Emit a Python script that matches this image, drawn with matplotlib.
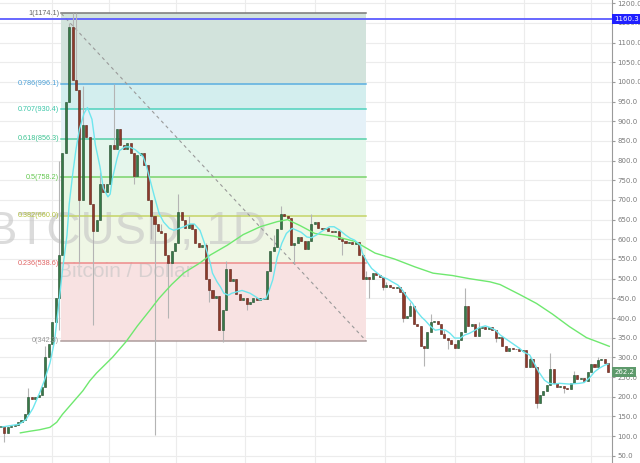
import numpy as np
import pandas as pd
import matplotlib
matplotlib.use("Agg")
from matplotlib import pyplot as plt
import matplotlib.dates as mdates

start = "2013-09-28"
first_open = 124.0
closes = [125, 108, 122, 126, 128, 135, 140, 155, 200, 195,
          200, 205, 225, 300, 335, 390, 450, 560, 820, 950,
          1140, 1005, 980, 700, 890, 860, 690, 620, 650, 740,
          720, 740, 840, 830, 880, 840, 830, 845, 820, 760,
          815, 820, 790, 700, 660, 640, 620, 615, 560, 540,
          570, 590, 670, 650, 630, 640, 625, 590, 580, 585,
          500, 470, 450, 455, 370, 420, 525, 495, 500, 460,
          445, 450, 435, 440, 450, 445, 452, 448, 520, 570,
          580, 625, 665, 660, 655, 585, 590, 605, 595, 575,
          595, 640, 645, 630, 625, 628, 622, 618, 620, 600,
          595, 590, 594, 588, 592, 560, 500, 505, 498, 515,
          510, 505, 480, 483, 478, 475, 478, 465, 400, 405,
          430, 385, 380, 330, 325, 365, 390, 392, 385, 360,
          350, 345, 335, 325, 345, 365, 430, 380, 385, 355,
          375, 378, 373, 378, 370, 350, 352, 330, 315, 325,
          322, 320, 315, 318, 275, 295, 275, 185, 205, 215,
          230, 270, 235, 225, 228, 222, 220, 235, 255, 245,
          248, 240, 262, 282, 275, 292, 295, 285, 262.2]
highs = {8: 222, 13: 330, 17: 800, 20: 1150, 21: 1174.1, 22: 1174.1, 24: 990, 29: 770,
         33: 995, 38: 840, 47: 640, 52: 715, 55: 660, 60: 590, 66: 545, 69: 500,
         80: 610, 82: 685, 91: 665, 99: 615, 107: 520, 113: 492, 120: 440, 126: 410,
         130: 370, 136: 475, 140: 390, 147: 355, 155: 300, 161: 312, 168: 265, 175: 300}
lows = {1: 86, 13: 250, 17: 370, 23: 540, 27: 382, 32: 760, 39: 740, 44: 600, 45: 102,
        49: 400, 61: 440, 65: 340, 72: 420, 86: 540, 100: 560, 108: 450, 112: 470,
        118: 390, 124: 278, 131: 320, 145: 340, 157: 170, 165: 210}

# fast moving average (cyan)
fast_dates = ["2013-09-29", "2013-10-14", "2013-10-20", "2013-10-26", "2013-11-01", "2013-11-05",
              "2013-11-10", "2013-11-14", "2013-11-18", "2013-11-21", "2013-11-25", "2013-11-27",
              "2013-11-30", "2013-12-03", "2013-12-06", "2013-12-10", "2013-12-13", "2013-12-17",
              "2013-12-20", "2013-12-24", "2013-12-27", "2013-12-31", "2014-01-02", "2014-01-04",
              "2014-01-08", "2014-01-10", "2014-01-15", "2014-01-19", "2014-01-24", "2014-01-28",
              "2014-01-31", "2014-02-03", "2014-02-06", "2014-02-10", "2014-02-14", "2014-02-18",
              "2014-02-23", "2014-02-27", "2014-03-04", "2014-03-08", "2014-03-13", "2014-03-17",
              "2014-03-22", "2014-03-26", "2014-03-31", "2014-04-02", "2014-04-06", "2014-04-09",
              "2014-04-12", "2014-04-16", "2014-04-19", "2014-04-24", "2014-04-28", "2014-05-05",
              "2014-05-10", "2014-05-14", "2014-05-19", "2014-05-21", "2014-05-25", "2014-05-29",
              "2014-06-02", "2014-06-06", "2014-06-11", "2014-06-15", "2014-06-19", "2014-06-24",
              "2014-06-28", "2014-07-03", "2014-07-07", "2014-07-14", "2014-07-18", "2014-07-23",
              "2014-07-28", "2014-08-01", "2014-08-05", "2014-08-10", "2014-08-12", "2014-08-16",
              "2014-08-20", "2014-08-25", "2014-08-29", "2014-09-03", "2014-09-07", "2014-09-12",
              "2014-09-16", "2014-09-20", "2014-09-25", "2014-09-29", "2014-10-03", "2014-10-06",
              "2014-10-11", "2014-10-15", "2014-10-19", "2014-10-24", "2014-10-28", "2014-11-01",
              "2014-11-06", "2014-11-10", "2014-11-14", "2014-11-19", "2014-11-23", "2014-11-28",
              "2014-12-02", "2014-12-07", "2014-12-11", "2014-12-15", "2014-12-20", "2014-12-24",
              "2014-12-28", "2015-01-01", "2015-01-06", "2015-01-10", "2015-01-14", "2015-01-19",
              "2015-01-23", "2015-01-28", "2015-02-01", "2015-02-10", "2015-02-19", "2015-02-23",
              "2015-02-28", "2015-03-04", "2015-03-08", "2015-03-13", "2015-03-16"]
fast_ma = [123, 130, 142, 170, 210, 240,
           285, 340, 440, 520, 610, 690,
           765, 830, 880, 920, 935, 905,
           840, 785, 730, 708, 715, 755,
           805, 825, 835, 835, 828, 818,
           810, 785, 752, 708, 666, 644,
           628, 623, 628, 632, 639, 639,
           623, 590, 540, 514, 492, 479,
           463, 458, 463, 467, 470, 463,
           454, 446, 450, 463, 497, 555,
           590, 615, 628, 623, 618, 606,
           604, 612, 620, 632, 632, 623,
           611, 603, 598, 585, 564, 543,
           526, 514, 505, 499, 492, 484,
           471, 454, 437, 416, 402, 394,
           378, 369, 371, 369, 361, 349,
           349, 357, 361, 369, 376, 380,
           376, 369, 357, 349, 339, 331,
           323, 313, 306, 285, 263, 242,
           234, 232, 234, 232, 234, 236,
           249, 263, 272, 280, 283]

# slow moving average (green)
slow_dates = ["2013-10-15", "2013-10-23", "2013-11-01", "2013-11-10", "2013-11-16", "2013-11-21",
              "2013-11-27", "2013-12-03", "2013-12-09", "2013-12-15", "2013-12-21", "2013-12-28",
              "2014-01-04", "2014-01-10", "2014-01-16", "2014-01-26", "2014-02-06", "2014-02-14",
              "2014-02-25", "2014-03-08", "2014-03-22", "2014-03-31", "2014-04-15", "2014-04-29",
              "2014-05-14", "2014-05-29", "2014-06-07", "2014-06-18", "2014-07-01", "2014-07-18",
              "2014-08-05", "2014-08-23", "2014-09-09", "2014-09-27", "2014-10-13", "2014-10-30",
              "2014-11-14", "2014-12-02", "2014-12-11", "2014-12-28", "2015-01-12", "2015-01-26",
              "2015-02-10", "2015-02-25", "2015-03-08", "2015-03-17"]
slow_ma = [108, 112, 116, 122, 135, 155,
           175, 195, 215, 240, 260, 280,
           300, 320, 340, 380, 420, 450,
           485, 515, 540, 560, 585, 612,
           632, 645, 650, 635, 615, 608,
           595, 565, 550, 530, 514, 508,
           500, 492, 485, 460, 437, 410,
           378, 350, 338, 328]

# fibonacci retracement
fib_start, fib_end = "2013-11-20", "2014-08-15"
fib_levels = [1174.1, 996.1, 930.4, 856.3, 758.2, 660.0, 538.6, 342.3]
fib_labels = ["1(1174.1)", "0.786(996.1)", "0.707(930.4)", "0.618(856.3)",
              "0.5(758.2)", "0.382(660.0)", "0.236(538.6)", "0(342.3)"]
fib_line_colors = ["#787878", "#5aaee0", "#4fd2bd", "#55d0a8", "#79d36c", "#c4d466", "#ee8a8a", "#ae9c9c"]
fib_text_colors = ["#666666", "#4a9fd6", "#3cc6a8", "#3ec493", "#64c850", "#b3c23e", "#e06464", "#999999"]
fib_fills = ["#d2e3dc", "#d3eeee", "#e5f1f8", "#e5f6ec", "#e8f6e3", "#eff7e5", "#f8e2e2"]

last_price = 262.2
hline_price = 1160.3
grid_dates = ["2013-11-12", "2014-01-01", "2014-03-01", "2014-05-01", "2014-07-01",
              "2014-09-01", "2014-11-01", "2015-01-01", "2015-03-01"]

# ---------------------------------------------------------------
dates = pd.date_range(start, periods=len(closes), freq="3D")
x = mdates.date2num(dates.to_pydatetime())
c = np.array(closes, dtype=float)
o = np.concatenate([[first_open], c[:-1]])
hi = np.maximum(o, c)
lo = np.minimum(o, c)
for k, v in highs.items():
    hi[k] = v
for k, v in lows.items():
    lo[k] = v

fig = plt.figure(figsize=(6.4, 4.63), dpi=100)
ax = fig.add_axes([0, 0, 612 / 640, 1])
t0 = mdates.date2num(pd.Timestamp(start))
ax.set_xlim(t0 - 0.9, t0 + 537.4)
ax.set_ylim(31.4, 1208.4)

# grid
ax.set_yticks(np.arange(50, 1201, 50))
ax.set_yticklabels([f"{v:.1f}" for v in np.arange(50, 1201, 50)])
ax.set_xticks(mdates.date2num(pd.to_datetime(grid_dates).to_pydatetime()))
ax.set_xticklabels([])
ax.grid(True, color="#ececec", lw=0.8, zorder=0)
ax.set_axisbelow(True)
ax.tick_params(axis="x", length=0)
ax.yaxis.tick_right()
ax.tick_params(axis="y", length=2.5, color="#9a9a9a", labelsize=5.0, labelcolor="#7a7a7a", pad=1.2)
for s in ["top", "left", "bottom"]:
    ax.spines[s].set_visible(False)
ax.spines["right"].set_color("#9a9a9a")

# fibonacci box
fx0 = mdates.date2num(pd.Timestamp(fib_start))
fx1 = mdates.date2num(pd.Timestamp(fib_end))
for k in range(len(fib_levels) - 1):
    ax.fill_between([fx0, fx1], fib_levels[k + 1], fib_levels[k], color=fib_fills[k], lw=0, zorder=1)
for lvl, lab, lc, tc in zip(fib_levels, fib_labels, fib_line_colors, fib_text_colors):
    ax.plot([fx0, fx1], [lvl, lvl], color=lc, lw=1.1, zorder=2)
    ax.annotate(lab, (fx0, lvl), xytext=(-1.5, 0), textcoords="offset points",
                ha="right", va="center", fontsize=5.2, family="Liberation Sans",
                color=tc, zorder=5)
ax.plot([fx0, fx1], [fib_levels[0], fib_levels[-1]], color="#9a9a9a", lw=0.8,
        ls=(0, (3, 3)), zorder=2)

# watermark
ax.text(0.207, 0.499, "BTCUSD, 1D", transform=ax.transAxes, ha="center", va="center",
        fontsize=34, family="Liberation Sans", color="#c4c4c4", alpha=0.6, zorder=1.5)
ax.text(0.205, 0.414, "Bitcoin / Dollar", transform=ax.transAxes, ha="center", va="center",
        fontsize=15, family="Liberation Sans", color="#c4c4c4", alpha=0.6, zorder=1.5)

# horizontal line
ax.axhline(hline_price, color="#5c5cff", lw=1.3, zorder=2.5)

# candles
up = c >= o
ax.vlines(x, lo, hi, color="#b4b4b4", lw=0.8, zorder=3)
body_h = np.maximum(np.abs(c - o), 2.0)
ax.bar(x[up], body_h[up], bottom=np.minimum(o, c)[up], width=1.8,
       color="#367a48", edgecolor="#21492b", lw=0.4, zorder=3.5)
ax.bar(x[~up], body_h[~up], bottom=np.minimum(o, c)[~up], width=1.8,
       color="#8e3a2b", edgecolor="#5a2016", lw=0.4, zorder=3.5)

# moving averages
ax.plot(mdates.date2num(pd.to_datetime(slow_dates).to_pydatetime()), slow_ma,
        color="#6fe86f", lw=1.0, zorder=4)
ax.plot(mdates.date2num(pd.to_datetime(fast_dates).to_pydatetime()), fast_ma,
        color="#6ee6ee", lw=1.0, zorder=4)

# price tags on the axis
ytr = ax.get_yaxis_transform()
ax.text(1.004, hline_price, f"{hline_price:.1f}", transform=ytr, ha="left", va="center",
        fontsize=5.0, color="white", clip_on=False, zorder=6,
        bbox=dict(boxstyle="square,pad=0.3", fc="#2020ff", ec="none"))
ax.text(1.004, last_price, f"{last_price:.1f}", transform=ytr, ha="left", va="center",
        fontsize=5.0, color="white", clip_on=False, zorder=6,
        bbox=dict(boxstyle="square,pad=0.3", fc="#5e9a6c", ec="none"))

fig.savefig("out.png", dpi=100)
